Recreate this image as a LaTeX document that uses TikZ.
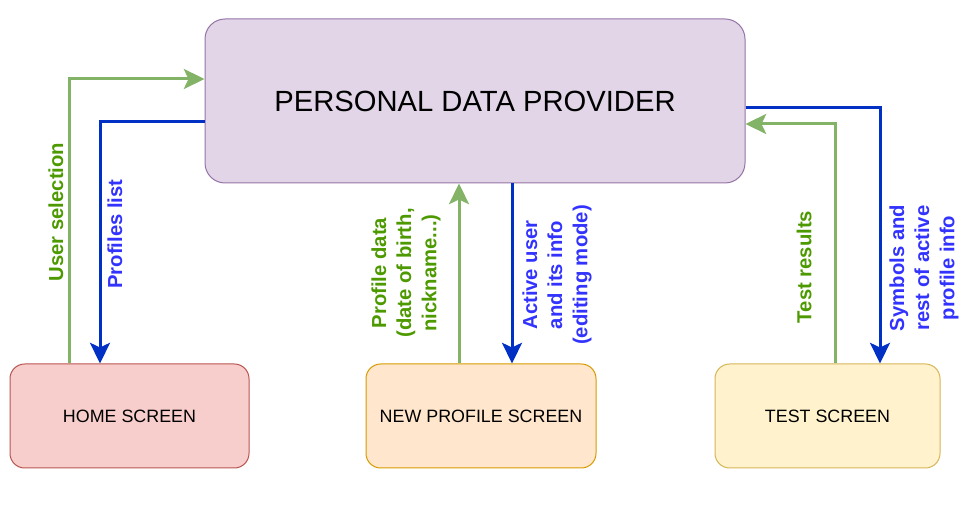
\documentclass[tikz,border=0pt]{standalone}
\usepackage{fontspec}
\setmainfont{Liberation Sans}
\usetikzlibrary{arrows.meta}
\definecolor{mainfill}{HTML}{E1D5E7}
\definecolor{maindraw}{HTML}{9673A6}
\definecolor{homefill}{HTML}{F8CECC}
\definecolor{homedraw}{HTML}{B85450}
\definecolor{newfill}{HTML}{FFE6CC}
\definecolor{newdraw}{HTML}{D79B00}
\definecolor{testfill}{HTML}{FFF2CC}
\definecolor{testdraw}{HTML}{D6B656}
\definecolor{gline}{HTML}{82B366}
\definecolor{bline}{HTML}{0030C4}
\definecolor{gtext}{HTML}{4D9900}
\definecolor{btext}{HTML}{3333FF}
\tikzset{
  box/.style={rectangle, rounded corners=11pt, line width=0.75pt, minimum height=78pt, inner sep=0pt, font=\fontsize{13.4}{15}\selectfont},
  gflow/.style={draw=gline, line width=2.25pt, -{Stealth[length=15.5pt, width=15pt, inset=3.5pt]}},
  bflow/.style={draw=bline, line width=2.25pt, -{Stealth[length=15.5pt, width=15pt, inset=3.5pt]}},
  lbl/.style={rotate=90, align=center, inner sep=0pt, font=\bfseries\fontsize{15.2}{18.8}\selectfont},
  glbl/.style={lbl, text=gtext},
  blbl/.style={lbl, text=btext}
}
\begin{document}
\begin{tikzpicture}[x=0.75pt, y=-0.75pt]
\useasboundingbox (0,0) rectangle (975,516);
\node[rectangle, rounded corners=15pt, line width=0.75pt, draw=maindraw, fill=mainfill, minimum width=405pt, minimum height=123pt, inner sep=0pt, font=\fontsize{21.9}{25}\selectfont] (main) at (475,101) {PERSONAL DATA PROVIDER};
\node[box, draw=homedraw, fill=homefill, minimum width=179.25pt] (home) at (129.5,416) {HOME SCREEN};
\node[box, draw=newdraw, fill=newfill, minimum width=172.5pt] (newp) at (481,416) {NEW PROFILE SCREEN};
\node[box, draw=testdraw, fill=testfill, minimum width=168.75pt] (test) at (827.5,416) {TEST SCREEN};

% home <-> main
\coordinate (c1) at (69,79);
\coordinate (c2) at (100,122);
\draw[gflow] (home.north -| c1) -- (c1) -- (c1 -| main.west);
\draw[bflow] (main.west |- c2) -- (c2) -- (c2 |- home.north);

% new profile <-> main
\coordinate (c3) at (459,0);
\coordinate (c4) at (512,0);
\draw[gflow] (newp.north -| c3) -- (main.south -| c3);
\draw[bflow] (main.south -| c4) -- (newp.north -| c4);

% test <-> main
\coordinate (c5) at (880,108);
\coordinate (c6) at (835,124);
\draw[bflow] (main.east |- c5) -- (c5) -- (c5 |- test.north);
\draw[gflow] (test.north -| c6) -- (c6) -- (c6 -| main.east);

% labels
\node[glbl] (l1) at (56,212) {User selection};
\node[blbl] (l2) at (115,234) {Profiles list};
\node[glbl] (l3) at (406,273) {Profile data\\(date of birth,\\nickname...)};
\node[blbl] (l4) at (557,275) {Active user\\and its info\\(editing mode)};
\node[glbl] (l5) at (804,267) {Test results};
\node[blbl] (l6) at (924,268) {Symbols and\\rest of active\\profile info};
\end{tikzpicture}
\end{document}
